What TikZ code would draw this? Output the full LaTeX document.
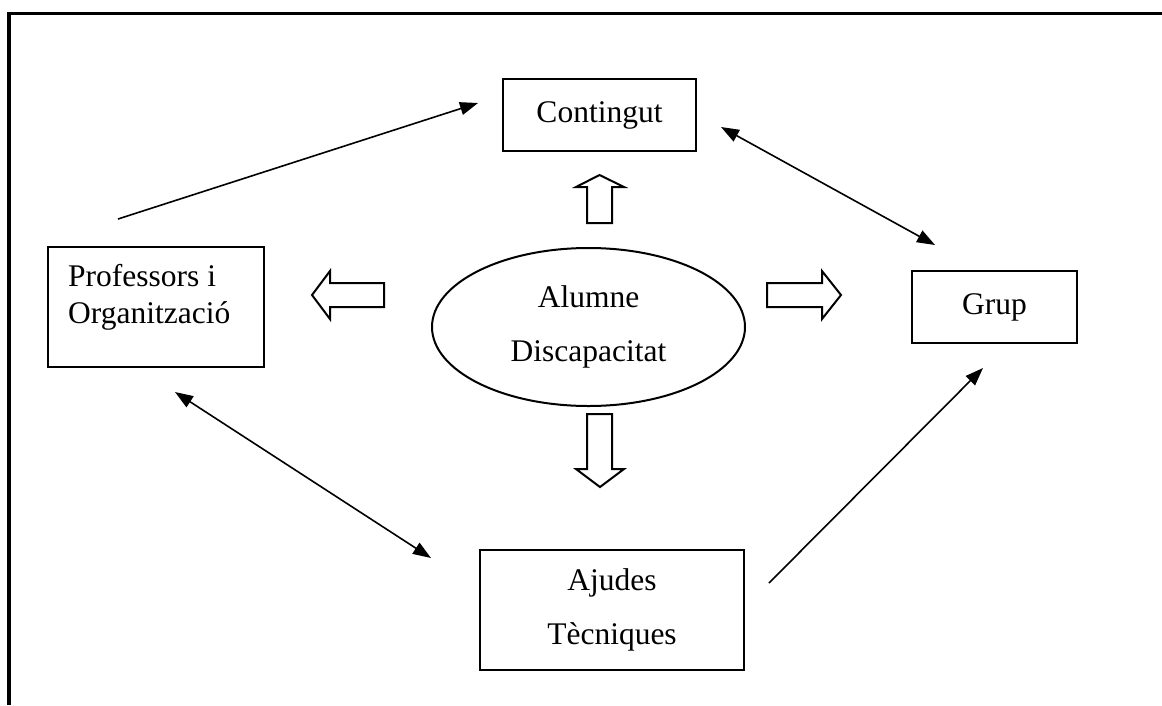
\documentclass[tikz,border=0pt]{standalone}
\usepackage{fontspec}
\setmainfont{Liberation Serif}
\usetikzlibrary{shapes.geometric,arrows.meta,calc}

\tikzset{
  box/.style={draw, line width=2pt, rectangle, inner sep=0pt,
              font=\fontsize{31.5}{37}\selectfont},
  tallbox/.style={box, align=center, font=\fontsize{31.5}{54}\selectfont},
  hollow/.style={draw, line width=2pt, line join=miter, fill=white},
  link/.style={line width=1.6pt, -{Triangle[length=18pt,width=13pt]}},
  duallink/.style={line width=1.6pt, {Triangle[length=18pt,width=13pt]}-{Triangle[length=18pt,width=13pt]}}
}

\begin{document}
\begin{tikzpicture}[x=1pt,y=-1pt]
  \useasboundingbox (0,0) rectangle (1162,705);

  % page frame
  \draw[line width=3.2pt] (1162,13.3) -- (9,13.3) -- (9,705);

  % boxes
  \node[box, minimum width=193pt, minimum height=72pt] (cont) at (599.5,115) {Contingut};
  \node[box, minimum width=165pt, minimum height=72pt] (grup) at (994.5,307) {Grup};
  \node[box, minimum width=216pt, minimum height=120pt] (prof) at (156,307) {};
  \node[align=left, anchor=base west, inner sep=0pt,
        font=\fontsize{31.5}{37}\selectfont] (proftext) at (68,323) {Professors i\\Organització};
  \node[tallbox, minimum width=264pt, minimum height=120pt] (ajud) at (612,610) {Ajudes\\Tècniques};

  % central ellipse
  \node[draw, ellipse, line width=2pt, inner sep=0pt, align=center,
        minimum width=313pt, minimum height=158pt,
        font=\fontsize{31.5}{54}\selectfont] (alum) at (588.5,327) {Alumne\\Discapacitat};

  % hollow block arrows around the ellipse
  \draw[hollow] (767,283) -- (822,283) -- (822,271) -- (841,295) -- (822,319)
                -- (822,307) -- (767,307) -- cycle;
  \draw[hollow] (384,283) -- (330,283) -- (330,271) -- (312,295) -- (330,319)
                -- (330,307) -- (384,307) -- cycle;
  \draw[hollow] (587,223) -- (587,187) -- (576,187) -- (599.5,175) -- (624,187)
                -- (612,187) -- (612,223) -- cycle;
  \draw[hollow] (587,414) -- (587,469) -- (576,469) -- (600,487) -- (624,469)
                -- (612,469) -- (612,414) -- cycle;

  % connectors
  \draw[link] ($(prof.north)+(-38,-27)$) -- ($(cont.west)+(-24,-12)$);
  \draw[duallink] ($(cont.east)+(24,12)$) -- ($(grup.north)+(-59.5,-25)$);
  \draw[duallink] ($(prof.south)+(19,24)$) -- ($(ajud.west)+(-48,-52)$);
  \draw[link] ($(ajud.east)+(24,-27)$) -- ($(grup.south)+(-11.5,24)$);
\end{tikzpicture}
\end{document}
